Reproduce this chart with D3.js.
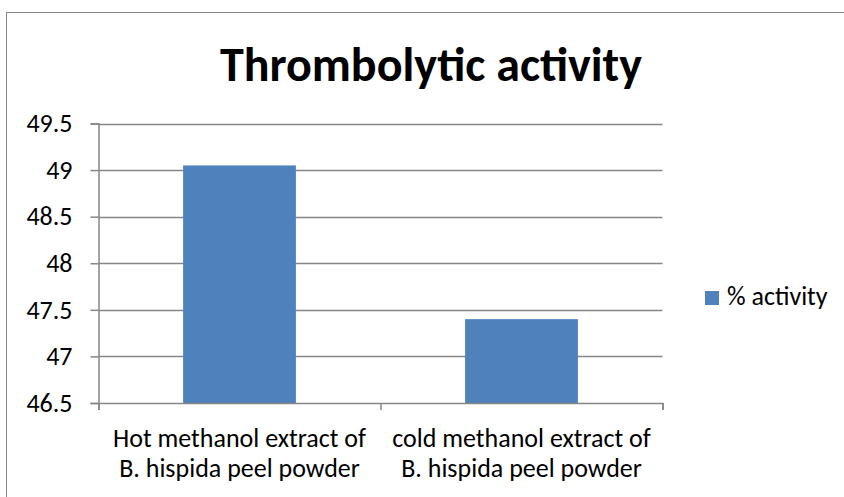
<!DOCTYPE html>
<html><head><meta charset="utf-8">
<script src="https://cdn.jsdelivr.net/npm/d3@7"></script>
<style>body{margin:0;background:#fff;} text{font-family:Carlito, Lato, "Open Sans", sans-serif;}</style>
</head><body>
<svg id="c" width="844" height="497"></svg>
<script>
const categories = [["Hot methanol extract of","B. hispida peel powder"],["cold methanol extract of","B. hispida peel powder"]];
const values = [49.05, 47.4];
const yTicks = [46.5, 47, 47.5, 48, 48.5, 49, 49.5];
const seriesName = "% activity";
const title = "Thrombolytic activity";

const svg = d3.select("#c");
svg.append("rect").attr("x",6.5).attr("y",12.5).attr("width",850).attr("height",500)
  .attr("fill","#fff").attr("stroke","#868686").attr("stroke-width",1);

const L=98.5, R=662.5, T=123.5, B=403;
const x = d3.scaleBand().domain(d3.range(values.length)).range([L,R]).paddingInner(0.6).paddingOuter(0.3);
const y = d3.scaleLinear().domain([46.5,49.5]).range([B,T]);

// gridlines
svg.append("g").selectAll("line").data(yTicks.slice(1)).join("line")
  .attr("x1",L).attr("x2",R).attr("y1",d=>Math.round(y(d))+0.5).attr("y2",d=>Math.round(y(d))+0.5)
  .attr("stroke","#868686").attr("stroke-width",1.5);

// bars
svg.append("g").selectAll("rect").data(values).join("rect")
  .attr("x",(d,i)=>x(i)).attr("width",x.bandwidth())
  .attr("y",d=>y(d)).attr("height",d=>B-y(d))
  .attr("fill","#4f81bd");

// y axis
const ya = svg.append("g").attr("transform",`translate(${L},0)`)
  .call(d3.axisLeft(y).tickValues(yTicks).tickSize(8).tickPadding(18).tickFormat(d=>d));
ya.attr("font-size",null).attr("font-family",null);
ya.select(".domain").attr("stroke","#868686").attr("stroke-width",1.5);
ya.selectAll(".tick line").attr("stroke","#868686").attr("stroke-width",1.5);
ya.selectAll("text").attr("font-size",26).attr("fill","#000");

// x axis
const xb = d3.scaleLinear().domain([0,values.length]).range([L,R]);
const xa = svg.append("g").attr("transform",`translate(0,${B})`)
  .call(d3.axisBottom(xb).tickValues(d3.range(values.length+1)).tickSize(7).tickFormat(""));
xa.select(".domain").attr("stroke","#868686").attr("stroke-width",1.5);
xa.selectAll(".tick line").attr("stroke","#868686").attr("stroke-width",1.5);

const lab = svg.append("g").selectAll("text").data(categories).join("text")
  .attr("x",(d,i)=>x(i)+x.bandwidth()/2).attr("y",447)
  .attr("text-anchor","middle").attr("font-size",26).attr("fill","#000");
lab.selectAll("tspan").data(d=>d).join("tspan")
  .attr("x",function(){return this.parentNode.getAttribute("x");})
  .attr("dy",(d,i)=>i?30:0).text(d=>d);

// title
svg.append("text").attr("x",431).attr("y",80.5).attr("text-anchor","middle")
  .attr("font-size",48).attr("font-weight","bold").attr("fill","#000").text(title);

// legend
svg.append("rect").attr("x",705).attr("y",291).attr("width",14).attr("height",14).attr("fill","#4f81bd");
svg.append("text").attr("x",727).attr("y",305).attr("font-size",26).attr("fill","#000").text(seriesName);
</script>
</body></html>
